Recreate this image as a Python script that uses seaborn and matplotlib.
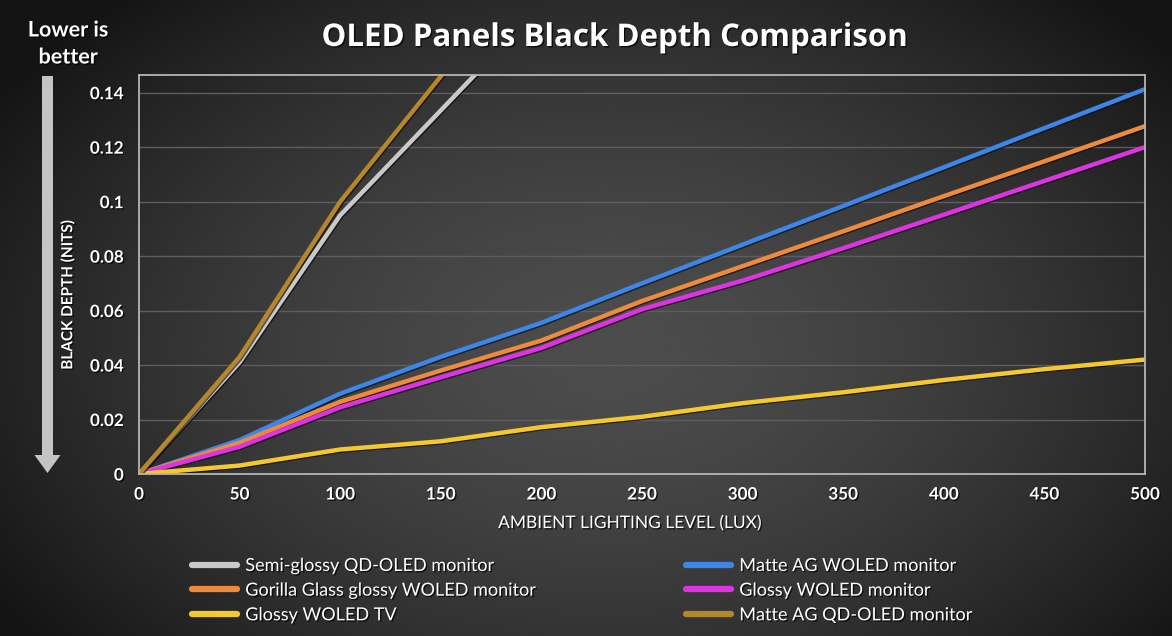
import numpy as np
import pandas as pd
import matplotlib
matplotlib.use("Agg")
import matplotlib.pyplot as plt
import matplotlib.patheffects as pe
from matplotlib.patches import FancyArrow
from matplotlib.lines import Line2D
import seaborn as sns

# ---------------- data ----------------
series_names = [
    "Semi-glossy QD-OLED monitor",
    "Matte AG WOLED monitor",
    "Gorilla Glass glossy WOLED monitor",
    "Glossy WOLED monitor",
    "Glossy WOLED TV",
    "Matte AG QD-OLED monitor",
]
lux_full = [0, 50, 100, 150, 200, 250, 300, 350, 400, 450, 500]
lux_short = [0, 50, 100, 150, 200]

semi_glossy_qdoled = [0, 0.041, 0.095, 0.1335, 0.172]
matte_ag_woled = [0, 0.0125, 0.0295, 0.0430, 0.0555, 0.0700, 0.0842, 0.0984, 0.1126, 0.1270, 0.1413]
gorilla_glass_woled = [0, 0.0115, 0.0265, 0.0380, 0.0490, 0.0635, 0.0763, 0.0891, 0.1020, 0.1148, 0.1277]
glossy_woled = [0, 0.0100, 0.0245, 0.0355, 0.0463, 0.0605, 0.0710, 0.0829, 0.0952, 0.1076, 0.1200]
glossy_woled_tv = [0, 0.0031, 0.0090, 0.0120, 0.0172, 0.0210, 0.0260, 0.0300, 0.0345, 0.0385, 0.0420]
matte_ag_qdoled = [0, 0.043, 0.100, 0.146, 0.190]

y_ticks = [0, 0.02, 0.04, 0.06, 0.08, 0.1, 0.12, 0.14]
y_tick_labels = ["0", "0.02", "0.04", "0.06", "0.08", "0.1", "0.12", "0.14"]
x_ticks = [0, 50, 100, 150, 200, 250, 300, 350, 400, 450, 500]

colors = {
    "Semi-glossy QD-OLED monitor": "#c9c9c9",
    "Matte AG WOLED monitor": "#3b86e6",
    "Gorilla Glass glossy WOLED monitor": "#ee8a3c",
    "Glossy WOLED monitor": "#dd33e3",
    "Glossy WOLED TV": "#f5c82e",
    "Matte AG QD-OLED monitor": "#b5862a",
}

values = {
    "Semi-glossy QD-OLED monitor": (lux_short, semi_glossy_qdoled),
    "Matte AG WOLED monitor": (lux_full, matte_ag_woled),
    "Gorilla Glass glossy WOLED monitor": (lux_full, gorilla_glass_woled),
    "Glossy WOLED monitor": (lux_full, glossy_woled),
    "Glossy WOLED TV": (lux_full, glossy_woled_tv),
    "Matte AG QD-OLED monitor": (lux_short, matte_ag_qdoled),
}

rows = []
for name in series_names:
    xs, ys = values[name]
    for xv, yv in zip(xs, ys):
        rows.append({"lux": xv, "depth": yv, "series": name})
df = pd.DataFrame(rows)

# ---------------- style ----------------
sns.set_theme(style="dark")
plt.rcParams["font.family"] = ["Lato", "DejaVu Sans"]

W, H = 1172, 636
fig = plt.figure(figsize=(W / 100, H / 100), dpi=100)

# background gradient
bg = fig.add_axes([0, 0, 1, 1], zorder=-10)
gx, gy = np.meshgrid(np.linspace(0, 1, 400), np.linspace(0, 1, 220))
d = np.sqrt(((gx - 0.52) / 0.62) ** 2 + ((gy - 0.55) / 0.75) ** 2)
shade = 0.30 - 0.22 * np.clip(d, 0, 1) ** 1.6
bg.imshow(shade, cmap="gray", vmin=0, vmax=1, aspect="auto",
          extent=[0, 1, 0, 1], interpolation="bicubic")
bg.set_axis_off()

ax = fig.add_axes([139 / W, 1 - 474 / H, (1145 - 139) / W, (474 - 75) / H])
ax.set_facecolor((0, 0, 0, 0))

shadow = [pe.SimpleLineShadow(offset=(0.8, -0.8), shadow_color="black", alpha=0.6), pe.Normal()]

sns.lineplot(data=df, x="lux", y="depth", hue="series", hue_order=series_names,
             palette=colors, linewidth=3.2, ax=ax, legend=False, sort=True)
for ln in ax.lines:
    ln.set_path_effects(shadow)
    ln.set_solid_capstyle("round")

ax.set_xlim(0, 500)
ax.set_ylim(0, 0.1465)
ax.set_xticks(x_ticks)
ax.set_yticks(y_ticks)
ax.set_yticklabels(y_tick_labels)
ax.grid(axis="y", color="#5e5e5e", linewidth=1.0)
ax.grid(axis="x", visible=False)
ax.set_axisbelow(True)
for sp in ax.spines.values():
    sp.set_visible(True)
    sp.set_color("#b5b5b5")
    sp.set_linewidth(1.3)

txt_shadow = [pe.withSimplePatchShadow(offset=(1, -1), shadow_rgbFace="black", alpha=0.7)]

ax.tick_params(axis="both", length=0, labelsize=12.3, labelcolor="white")
ax.tick_params(axis="y", pad=11)
ax.tick_params(axis="x", pad=9)
for lab in ax.get_xticklabels() + ax.get_yticklabels():
    lab.set_fontweight("bold")
    lab.set_path_effects(txt_shadow)

ax.set_xlabel("")
ax.set_ylabel("")

fig.text(630 / W, 1 - 523 / H, "AMBIENT LIGHTING LEVEL (LUX)", color="white", fontsize=12.5,
         ha="center", va="center", path_effects=txt_shadow)

fig.text(68 / W, 1 - 295 / H, "BLACK DEPTH (NITS)", rotation=90, color="white",
         fontsize=11, fontweight="bold", ha="center", va="center", path_effects=txt_shadow)

fig.text(615 / W, 1 - 38 / H, "OLED Panels Black Depth Comparison", color="white",
         fontsize=22.5, fontweight="bold", ha="center", va="center",
         family=["Open Sans", "DejaVu Sans"], path_effects=txt_shadow)

fig.text(68 / W, 1 - 30 / H, "Lower is", color="white", fontsize=15.5, fontweight="bold",
         ha="center", va="center", path_effects=txt_shadow)
fig.text(68 / W, 1 - 57 / H, "better", color="white", fontsize=15.5, fontweight="bold",
         ha="center", va="center", path_effects=txt_shadow)

# downward arrow
arrow = FancyArrow(47.5 / W, 1 - 76 / H, 0, -(473 - 76) / H, width=11 / W,
                   head_width=26 / W, head_length=18 / H, length_includes_head=True,
                   transform=fig.transFigure, color="#c4c4c4", ec="none")
fig.patches.append(arrow)

# legend: two columns, row-wise order like the original
col1 = [series_names[0], series_names[2], series_names[4]]
col2 = [series_names[1], series_names[3], series_names[5]]
for names, x0 in ((col1, 192), (col2, 686)):
    handles = [Line2D([0], [0], color=colors[n], linewidth=4.5, solid_capstyle="round") for n in names]
    leg = fig.legend(handles, names, ncol=1, loc="upper left",
                     bbox_to_anchor=(x0 / W, 1 - 558 / H), frameon=False,
                     fontsize=13, handlelength=2.5, handletextpad=0.45,
                     labelspacing=0.48, borderpad=0, borderaxespad=0, labelcolor="white")
    for t in leg.get_texts():
        t.set_path_effects(txt_shadow)

fig.savefig("out.png", dpi=100, facecolor="#262626")
